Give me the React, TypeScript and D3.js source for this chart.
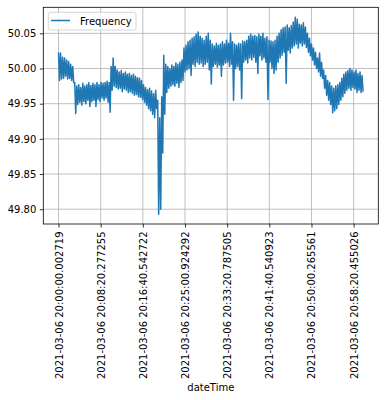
// App.tsx
import React, { useEffect, useRef } from 'react';
import * as d3 from 'd3';

// readings are paired: a high and a low one inside every 24 s step
const step = 24;

const freqHigh = [
  50.023, 50.022, 50.016, 50.015, 50.012, 50.010, 50.006, 50.003,
  49.980, 49.975, 49.977, 49.973, 49.979, 49.975, 49.977, 49.980, 49.976, 49.979,
  49.977, 49.980, 49.977, 49.980, 49.979, 49.980, 49.982, 49.980,
  50.003, 50.015, 50.003, 49.998, 49.995, 49.997, 49.993, 49.995, 49.992, 49.993,
  49.990, 49.992, 49.989, 49.987, 49.986, 49.983,
  49.977, 49.973, 49.970, 49.972, 49.968, 49.964, 49.969,
  49.955, 49.930, 49.960, 50.019, 50.006,
  50.003, 50.000, 50.005, 50.003, 50.008, 50.006, 50.009, 50.012,
  50.029, 50.033, 50.038, 50.040, 50.043, 50.045, 50.049, 50.052, 50.046, 50.043,
  50.040, 50.046, 50.050, 50.040,
  50.035, 50.032, 50.036, 50.033, 50.035, 50.038, 50.035, 50.040, 50.036, 50.050, 50.038,
  50.035, 50.033, 50.036, 50.035, 50.039, 50.038, 50.040, 50.046, 50.049, 50.046,
  50.047, 50.045, 50.049, 50.046, 50.050, 50.043, 50.045, 50.040, 50.039, 50.038, 50.040,
  50.046, 50.050, 50.055, 50.058, 50.059, 50.062, 50.058, 50.061, 50.066, 50.073,
  50.070, 50.063, 50.062, 50.065, 50.059, 50.050, 50.043, 50.035, 50.029, 50.023,
  50.015, 50.022, 50.009, 49.998, 49.990, 49.983, 49.980, 49.975, 49.972, 49.975,
  49.977, 49.980, 49.986, 49.992, 49.995, 49.997, 50.000, 49.998, 49.995, 49.998,
  49.993, 49.995, 49.990,
];

const freqLow = [
  49.983, 49.985, 49.986, 49.989, 49.985, 49.986, 49.983, 49.980,
  49.936, 49.949, 49.952, 49.948, 49.953, 49.950, 49.955, 49.946, 49.953, 49.955,
  49.946, 49.956, 49.953, 49.958, 49.955, 49.958, 49.952, 49.938,
  49.969, 49.975, 49.973, 49.971, 49.972, 49.967, 49.971, 49.969, 49.966, 49.967,
  49.965, 49.962, 49.963, 49.960, 49.959, 49.956,
  49.952, 49.948, 49.943, 49.940, 49.935, 49.930, 49.943,
  49.793, 49.800, 49.880, 49.935, 49.966,
  49.972, 49.975, 49.977, 49.975, 49.979, 49.973, 49.980, 49.983,
  49.995, 49.998, 50.000, 49.990, 50.006, 50.003, 50.009, 50.006, 50.008, 50.003,
  50.006, 50.009, 49.998, 49.978,
  50.003, 50.006, 50.002, 50.005, 49.989, 50.005, 50.008, 50.009, 50.003, 50.006, 49.955,
  50.000, 50.003, 49.998, 49.957, 50.009, 50.012, 50.008, 50.015, 50.012, 50.016,
  50.009, 49.993, 50.018, 50.012, 50.015, 50.009, 49.956, 50.009, 50.000, 49.993, 49.998,
  50.009, 50.015, 50.019, 50.023, 49.979, 50.026, 50.022, 50.029, 50.032, 50.035,
  50.029, 50.036, 50.032, 50.035, 50.030, 50.023, 50.018, 50.012, 50.005, 50.000,
  49.995, 49.989, 49.986, 49.972, 49.962, 49.955, 49.949, 49.937, 49.940, 49.943,
  49.949, 49.955, 49.960, 49.965, 49.969, 49.972, 49.969, 49.973, 49.971, 49.966,
  49.969, 49.966, 49.967,
];

const tickSeconds = [0, 500, 1000, 1500, 2000, 2500, 3000, 3500];
const tickLabels = [
  '2021-03-06 20:00:00.002719',
  '2021-03-06 20:08:20.277255',
  '2021-03-06 20:16:40.542722',
  '2021-03-06 20:25:00.924292',
  '2021-03-06 20:33:20.787505',
  '2021-03-06 20:41:40.540923',
  '2021-03-06 20:50:00.265561',
  '2021-03-06 20:58:20.455026',
];
const yTicks = [49.8, 49.85, 49.9, 49.95, 50.0, 50.05];

const seriesName = 'Frequency';
const xLabel = 'dateTime';

export default function App() {
  const svgRef = useRef<SVGSVGElement>(null);

  useEffect(() => {
    const width = 384;
    const height = 400;
    const box = { left: 43.3, right: 378.3, top: 7.3, bottom: 224 };
    const font = '"DejaVu Sans", sans-serif';

    const points: { t: number; v: number }[] = [];
    freqHigh.forEach((hi, i) => {
      points.push({ t: i * step, v: hi });
      points.push({ t: i * step + step / 2, v: freqLow[i] });
    });

    // matplotlib-like 5% margins around the data
    const [t0, t1] = d3.extent(points, (d) => d.t) as [number, number];
    const [v0, v1] = d3.extent(points, (d) => d.v) as [number, number];
    const tPad = (t1 - t0) * 0.05;
    const vPad = (v1 - v0) * 0.05;

    const x = d3.scaleLinear().domain([t0 - tPad, t1 + tPad]).range([box.left, box.right]);
    const y = d3.scaleLinear().domain([v0 - vPad, v1 + vPad]).range([box.bottom, box.top]);

    const svg = d3.select(svgRef.current);
    svg.selectAll('*').remove();
    svg.append('rect').attr('width', width).attr('height', height).attr('fill', 'white');

    // grid
    const grid = svg.append('g').attr('stroke', '#b0b0b0').attr('stroke-width', 0.8);
    grid
      .selectAll('.gx')
      .data(tickSeconds)
      .enter()
      .append('line')
      .attr('x1', (d) => x(d))
      .attr('x2', (d) => x(d))
      .attr('y1', box.top)
      .attr('y2', box.bottom);
    grid
      .selectAll('.gy')
      .data(yTicks)
      .enter()
      .append('line')
      .attr('x1', box.left)
      .attr('x2', box.right)
      .attr('y1', (d) => y(d))
      .attr('y2', (d) => y(d));

    // series
    const line = d3
      .line<{ t: number; v: number }>()
      .x((d) => x(d.t))
      .y((d) => y(d.v));
    svg
      .append('path')
      .datum(points)
      .attr('d', line)
      .attr('fill', 'none')
      .attr('stroke', '#1f77b4')
      .attr('stroke-width', 1.5)
      .attr('stroke-linejoin', 'round');

    // axes
    const yAxis = svg
      .append('g')
      .attr('transform', `translate(${box.left},0)`)
      .call(
        d3
          .axisLeft(y)
          .tickValues(yTicks)
          .tickFormat(d3.format('.2f'))
          .tickSize(3.5)
          .tickPadding(3.5)
      );
    const xAxis = svg
      .append('g')
      .attr('transform', `translate(0,${box.bottom})`)
      .call(
        d3
          .axisBottom(x)
          .tickValues(tickSeconds)
          .tickFormat((_, i) => tickLabels[i])
          .tickSize(3.5)
      );
    [yAxis, xAxis].forEach((g) => {
      g.select('.domain').remove();
      g.attr('font-family', font).attr('font-size', 10);
      g.selectAll('line').attr('stroke', '#000').attr('stroke-width', 0.8);
      g.selectAll('text').attr('fill', '#000');
    });
    xAxis
      .selectAll('text')
      .attr('transform', 'rotate(-90)')
      .attr('text-anchor', 'end')
      .attr('x', -7.5)
      .attr('y', 0)
      .attr('dy', '0.35em');

    // spines
    svg
      .append('rect')
      .attr('x', box.left)
      .attr('y', box.top)
      .attr('width', box.right - box.left)
      .attr('height', box.bottom - box.top)
      .attr('fill', 'none')
      .attr('stroke', '#000')
      .attr('stroke-width', 0.8);

    svg
      .append('text')
      .attr('x', (box.left + box.right) / 2)
      .attr('y', 391)
      .attr('text-anchor', 'middle')
      .attr('font-family', font)
      .attr('font-size', 10)
      .text(xLabel);

    // legend
    const legend = svg.append('g');
    legend
      .append('rect')
      .attr('x', 48.3)
      .attr('y', 12.3)
      .attr('width', 87.7)
      .attr('height', 17.7)
      .attr('rx', 2)
      .attr('fill', 'white')
      .attr('fill-opacity', 0.8)
      .attr('stroke', '#cccccc')
      .attr('stroke-width', 0.8);
    legend
      .append('line')
      .attr('x1', 51)
      .attr('x2', 70)
      .attr('y1', 20.5)
      .attr('y2', 20.5)
      .attr('stroke', '#1f77b4')
      .attr('stroke-width', 1.5);
    legend
      .append('text')
      .attr('x', 80)
      .attr('y', 24.5)
      .attr('font-family', font)
      .attr('font-size', 10)
      .text(seriesName);
  }, []);

  return (
    <svg
      ref={svgRef}
      width={384}
      height={400}
      style={{ position: 'absolute', left: 0, top: 0 }}
    />
  );
}
